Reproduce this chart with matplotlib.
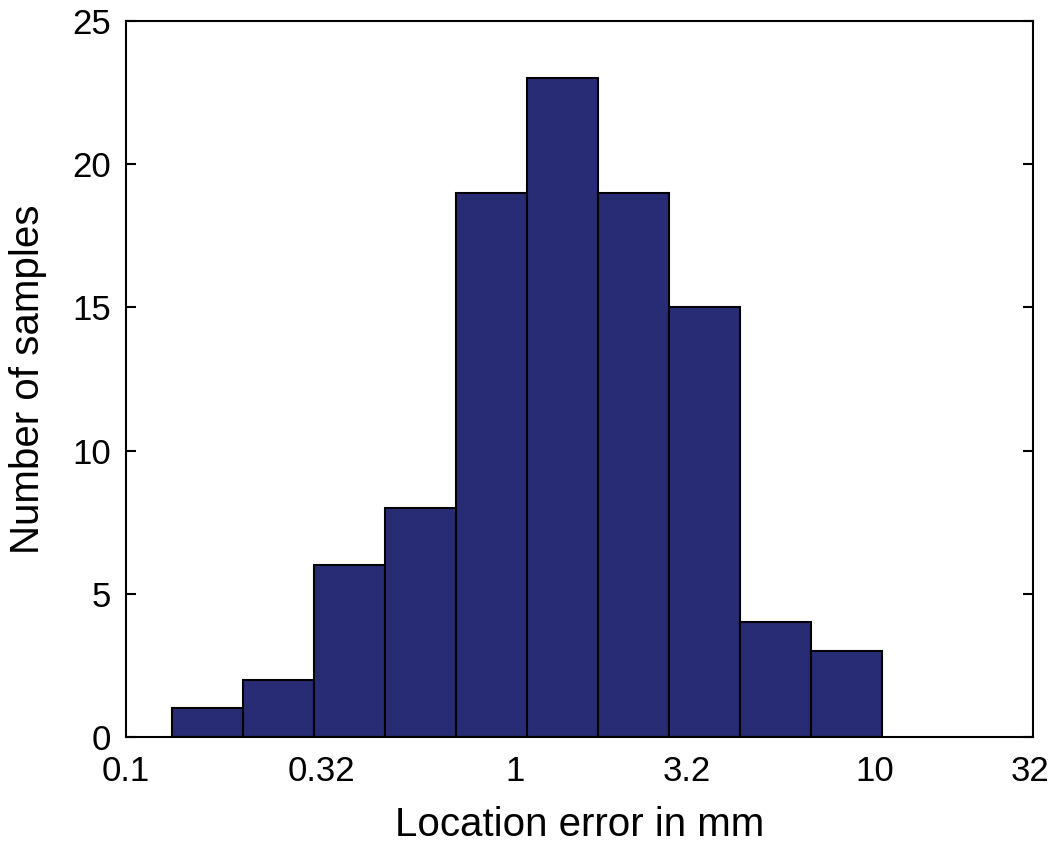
import numpy as np
import matplotlib.pyplot as plt

plt.rcParams['font.family'] = ['Liberation Sans', 'DejaVu Sans']

# histogram counts (log-spaced bins)
counts = [1, 2, 6, 8, 19, 23, 19, 15, 4, 3]
# bin edges in log10(mm)
log_lo, log_hi = -0.873, 1.084
tick_pos_log = [-1.0, -0.46, 0.072, 0.546, 1.064, 1.492]
tick_labels = ['0.1', '0.32', '1', '3.2', '10', '32']

edges = np.logspace(log_lo, log_hi, len(counts) + 1)

fig = plt.figure(figsize=(10.5, 8.48), dpi=100)
ax = fig.add_axes([0.12, 0.131, 0.8638, 0.8443])

ax.bar(edges[:-1], counts, width=np.diff(edges), align='edge',
       color='#282c74', edgecolor='black', linewidth=1.5)

ax.set_xscale('log')
ax.set_xlim(0.1, 10 ** 1.5)
ax.set_ylim(0, 25)
ax.set_yticks([0, 5, 10, 15, 20, 25])
ax.set_xticks([10 ** p for p in tick_pos_log])
ax.set_xticklabels(tick_labels)
ax.minorticks_off()

ax.tick_params(axis='x', length=0, pad=13, labelsize=25)
ax.tick_params(axis='y', direction='in', length=7, width=1.5,
               right=True, labelsize=25, pad=11)
for s in ax.spines.values():
    s.set_linewidth(1.5)

ax.set_xlabel('Location error in mm', fontsize=29, labelpad=13)
ax.set_ylabel('Number of samples', fontsize=29, labelpad=18)

plt.savefig('out.png', dpi=100)
